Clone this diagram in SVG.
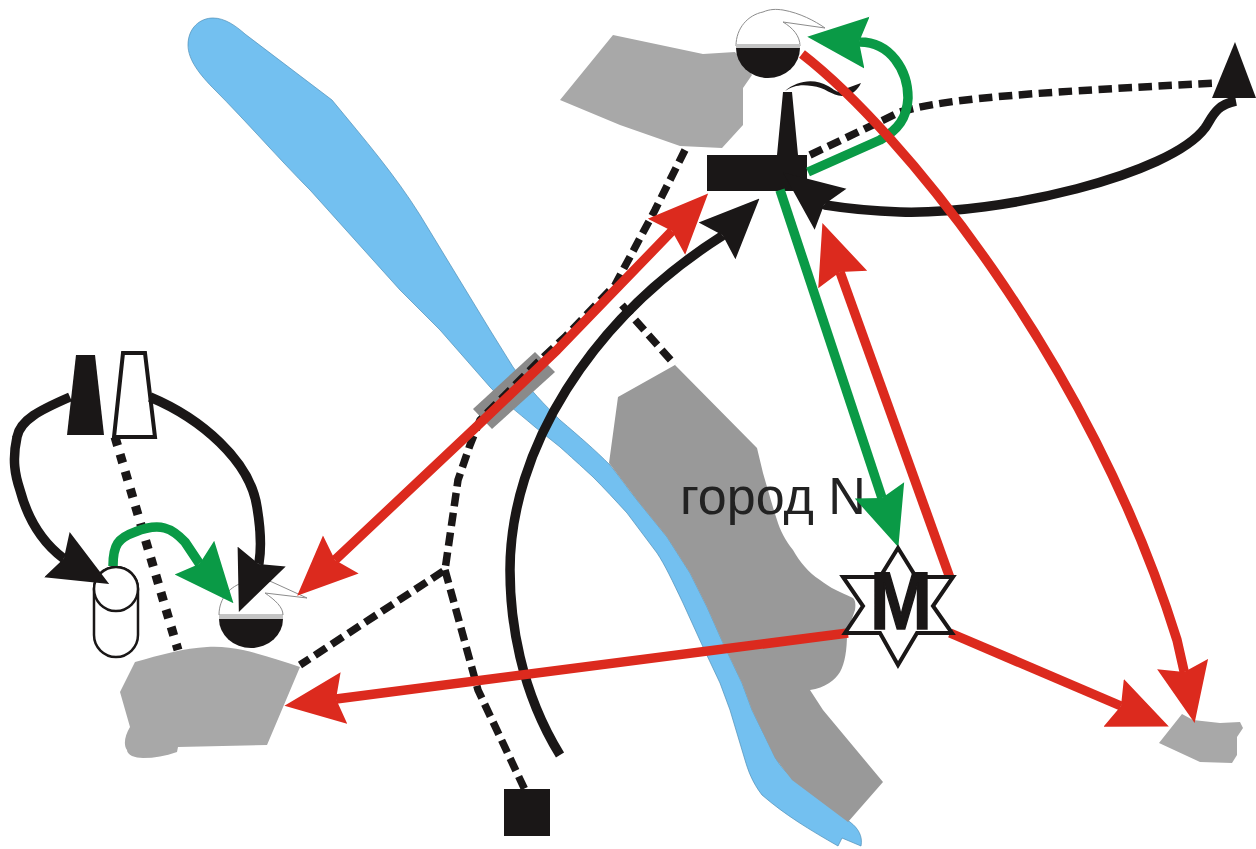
<svg xmlns="http://www.w3.org/2000/svg" width="1256" height="849" viewBox="0 0 1256 849">
<style>
.land{fill:#a8a8a8}
.city{fill:#999}
.k{fill:#1a1717}
.band{fill:#c4c4c4}
.bowl{fill:#fff;stroke:#8c8c8c;stroke-width:1}
.line{fill:none;stroke-linejoin:round}
.red{stroke:#dc2a1e;stroke-width:9.5}
.green{stroke:#0a9a46;stroke-width:9.5}
.black{stroke:#1a1717;stroke-width:9.5}
.dash{fill:none;stroke:#1a1717;stroke-width:7.5;stroke-dasharray:13.5 6.5}
.dot{fill:none;stroke:#1a1717;stroke-width:9;stroke-dasharray:9 9}
</style>
<defs>
<marker id="hr" viewBox="0 -27 60 54" markerWidth="60" markerHeight="54" refX="8" refY="0" markerUnits="userSpaceOnUse" orient="auto-start-reverse"><path d="M0-26L8 0 0 26 60 0Z" fill="#dc2a1e"/></marker>
<marker id="hg" viewBox="0 -27 60 54" markerWidth="60" markerHeight="54" refX="8" refY="0" markerUnits="userSpaceOnUse" orient="auto-start-reverse"><path d="M0-26L8 0 0 26 60 0Z" fill="#0a9a46"/></marker>
<marker id="hk" viewBox="0 -27 60 54" markerWidth="60" markerHeight="54" refX="8" refY="0" markerUnits="userSpaceOnUse" orient="auto-start-reverse"><path d="M0-26L8 0 0 26 60 0Z" fill="#1a1717"/></marker>
</defs>
<rect width="1256" height="849" fill="#fff"/>
<g id="river"><path d="M188 45C188 28 200 18 213 18C225 18 236 26 245 34L332 100C365 140 395 175 420 215L490 330L513 367C530 390 545 405 560 420C580 437 595 450 610 465C620 477 628 489 637 500L667 537L690 573L707 607L723 643L742 683L752 710L775 757C785 775 800 785 850 822C858 828 863 836 861 846L842 838L838 846C810 830 785 815 762 795C752 782 748 770 745 760L730 710L720 683L703 647L683 603C672 580 665 565 657 553L627 513C615 500 605 489 593 477C580 465 570 456 560 447L535 427C515 410 505 403 490 387L440 330L400 290L310 190C280 160 245 120 215 90C200 75 188 60 188 45Z" fill="#73c0f0" stroke="#4f8fb8" stroke-width=".7"/></g>
<g id="city-n">
<path class="city" d="M675 365L618 397L609 463L637 500L667 537L690 573L707 607L723 643L742 683L752 710L775 758L792 780L848 822L883 782L823 710L810 690C825 688 835 680 840 672C845 663 847 650 847 633L855 610C856 603 855 600 853 598C840 592 830 588 820 580C808 572 800 562 793 550C785 540 780 530 777 520C772 505 768 490 763 473L757 448Z"/>
<text x="680" y="514" font-family="'Liberation Sans',Arial,sans-serif" font-size="52" fill="#222">город N</text>
</g>
<g id="area-top"><path class="land" d="M613 35L560 100L620 125L680 146L722 148L743 125V88L752 75L735 52L703 54Z"/></g>
<g id="area-left"><path class="land" d="M120 692L135 662C160 655 185 648 207 647C220 646 232 648 243 650C265 655 282 661 300 667L267 745L178 747L177 752C165 756 155 758 143 758C135 758 127 755 127 750C123 745 125 735 130 727Z"/></g>
<g id="area-right"><path class="land" d="M1182 714L1193 720L1220 723L1240 722L1243 728L1237 737V755L1232 763L1200 762L1159 743Z"/></g>
<g id="bridge"><path d="M473 409L535 352L555 372L492 429Z" fill="#8a8a8a"/></g>
<g id="plant-top">
<path class="bowl" d="M736 46C736 28 748 15 763 12C770 9 776 9 783 10C800 13 815 21 825 28L783 22C793 28 800 36 800 46Z"/>
<rect class="band" x="736" y="44" width="64" height="4"/>
<path class="k" d="M736 48A32 30 0 0 0 800 48Z"/>
</g>
<g id="factory">
<path class="k" d="M783 92H792L798 155H807V191H707V155H777Z"/>
<path class="k" d="M785 91C797 80 815 78 828 86C835 90 838 94 842 90L861 83C858 90 850 97 842 96C832 96 825 87 812 86C800 84 793 86 785 91Z"/>
</g>
<g id="tower-black"><path class="k" d="M76 355H95L104 435H67Z"/></g>
<g id="tower-white"><path d="M123 353H145L155 437H114Z" fill="#fff" stroke="#1a1717" stroke-width="4"/></g>
<g id="cylinder" fill="#fff" stroke="#1a1717" stroke-width="2.5">
<rect x="94" y="567" width="44" height="90" rx="22" ry="22"/>
<circle cx="116" cy="589" r="22"/>
</g>
<g id="plant-left">
<path class="bowl" d="M219 615C219 598 230 586 245 582C255 579 265 579 272 582L307 598L265 593C275 600 283 607 283 615Z"/>
<rect class="band" x="219" y="615" width="64" height="4"/>
<path class="k" d="M219 619A32 29 0 0 0 283 619Z"/>
</g>
<g id="triangle"><path class="k" d="M1235 42L1256 98H1212Z"/></g>
<g id="square"><rect class="k" x="504" y="789" width="46" height="47"/></g>
<g id="connectors">
<path class="dash" d="M810 155L900 112C950 97 1050 92 1215 83"/>
<path class="dash" d="M685 150L655 210L615 285L565 337L537 363L492 408L480 420L470 445L458 480L445 570L300 665"/>
<path class="dash" d="M622 305L675 365"/>
<path class="dash" d="M445 570L478 690L525 790"/>
<path class="dot" d="M115 437L178 650"/>
<path class="line black" d="M70 397C40 410 20 420 17 437C12 460 15 475 20 490C28 520 42 542 63 558l.87.49" marker-end="url(#hk)"/>
<path class="line black" d="M150 397C200 418 250 460 257 507C260 525 262 545 259 563l-.38.925" marker-end="url(#hk)"/>
<path class="line black" d="M560 755C520 690 510 620 510 570C510 450 590 320 722 236l.707-.707" marker-end="url(#hk)"/>
<path class="line black" d="M1236 101C1215 105 1212 118 1205 128C1170 175 1000 215 900 212C870 211 850 209 825 205l-.79-.61" marker-end="url(#hk)"/>
<path class="line green" d="M780 190L882 498" marker-end="url(#hg)"/>
<path class="line green" d="M808 172L880 140C898 130 907 118 908 98C908 70 890 42 860 42l-1-.1" marker-end="url(#hg)"/>
<path class="line green" d="M113 566C113 545 118 538 135 532C160 522 172 528 185 542L199 563l.65.76" marker-end="url(#hg)"/>
<path class="line red" d="M335 560L473 430L557 350L672 231" marker-start="url(#hr)" marker-end="url(#hr)"/>
<path class="line red" d="M802 54C900 130 1090 360 1177 640L1184 671l.2.98" marker-end="url(#hr)"/>
<path class="line red" d="M950 578L840 272" marker-end="url(#hr)"/>
<path class="line red" d="M848 633L336 699" marker-end="url(#hr)"/>
<path class="line red" d="M950 633L1121 706" marker-end="url(#hr)"/>
</g>
<g id="metro">
<path d="M898 548L916 577H953L933 606L952 633H917L898 665L880 633H845L863 606L843 577H880Z" fill="#fff" stroke="#1a1717" stroke-width="4" stroke-linejoin="miter"/>
<text x="870" y="629" font-family="'Liberation Sans',Arial,sans-serif" font-weight="700" font-size="82" textLength="62" lengthAdjust="spacingAndGlyphs" fill="#1a1717" stroke="#1a1717" stroke-width="1.5">M</text>
</g>
</svg>
